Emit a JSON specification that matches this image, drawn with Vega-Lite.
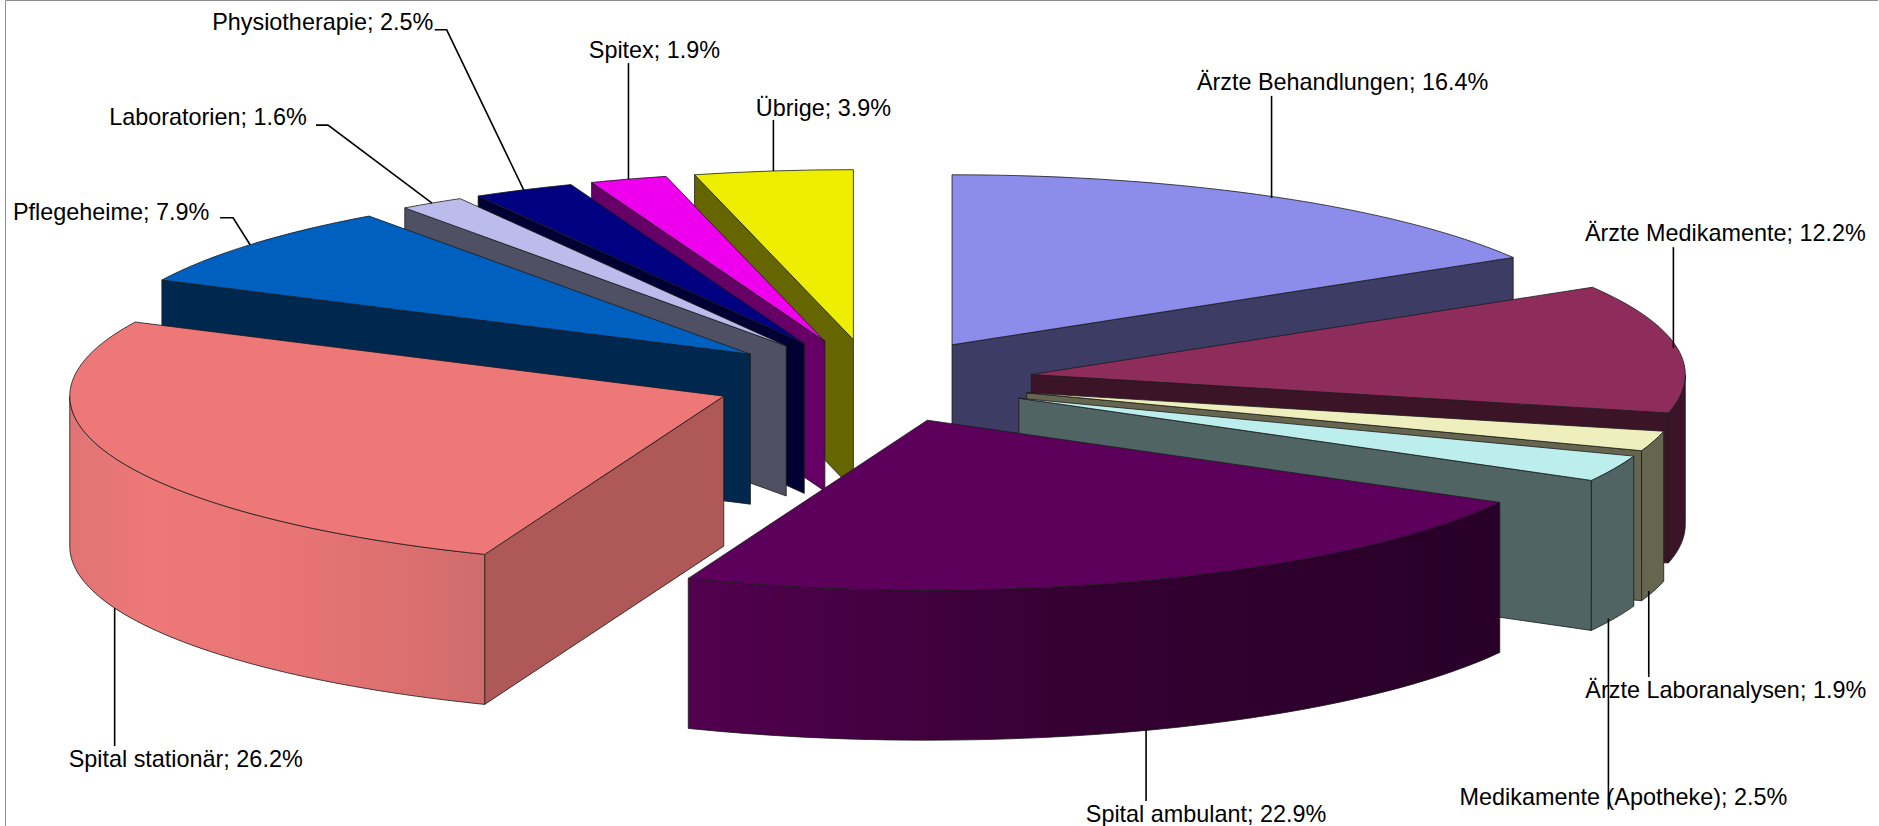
{
"$schema":"https://vega.github.io/schema/vega-lite/v6.json",
"autosize":{"type":"none"},
"padding":{"left":5,"top":0,"right":0,"bottom":0},
"width":1873,"height":826,
"background":"white",
"config":{"view":{"stroke":"#8c8c8c","strokeWidth":1}},
"params":[{"name":"rx","value":654},{"name":"ry","value":170},{"name":"depth","value":150},{"name":"explode","value":0.245}],
"data":{"values":[
{"name":"Ärzte Behandlungen","value":16.4},
{"name":"Ärzte Medikamente","value":12.2},
{"name":"Ärzte Laboranalysen","value":1.9},
{"name":"Medikamente (Apotheke)","value":2.5},
{"name":"Spital ambulant","value":22.9},
{"name":"Spital stationär","value":26.2},
{"name":"Pflegeheime","value":7.9},
{"name":"Laboratorien","value":1.6},
{"name":"Physiotherapie","value":2.5},
{"name":"Spitex","value":1.9},
{"name":"Übrige","value":3.9}
]},
"transform":[
{"window":[{"op":"sum","field":"value","as":"cum"}],"frame":[null,0]},
{"joinaggregate":[{"op":"sum","field":"value","as":"total"}]},
{"calculate":"(datum.cum-datum.value)/datum.total*2*PI","as":"a0"},
{"calculate":"datum.cum/datum.total*2*PI","as":"a1"},
{"calculate":"(datum.a0+datum.a1)/2","as":"mid"},
{"calculate":"sin(datum.mid)*explode","as":"apexX"},
{"calculate":"cos(datum.mid)*explode","as":"apexY"},
{"calculate":"sin(datum.mid)*(1+explode)","as":"rimX"},
{"calculate":"cos(datum.mid)*(1+explode)-(cos(datum.mid)<0?depth/ry:0)","as":"rimY"}
],
"layer":[
{
"transform":[
{"calculate":"round(rx*sin(datum.a0)*100)/100","as":"x0"},
{"calculate":"round(-ry*cos(datum.a0)*100)/100","as":"y0"},
{"calculate":"round(rx*sin(datum.a1)*100)/100","as":"x1"},
{"calculate":"round(-ry*cos(datum.a1)*100)/100","as":"y1"},
{"calculate":"max(datum.a0,PI/2)","as":"oFrom"},
{"calculate":"min(datum.a1,3*PI/2)","as":"oTo"},
{"calculate":"round(rx*sin(datum.oFrom)*100)/100","as":"ox0"},
{"calculate":"round(-ry*cos(datum.oFrom)*100)/100","as":"oy0"},
{"calculate":"round(rx*sin(datum.oTo)*100)/100","as":"ox1"},
{"calculate":"round(-ry*cos(datum.oTo)*100)/100","as":"oy1"},
{"calculate":"'M0,0L'+datum.x0+','+datum.y0+'A'+rx+','+ry+' 0 0 1 '+datum.x1+','+datum.y1+'Z'","as":"pTop"},
{"calculate":"'M0,0L'+datum.x0+','+datum.y0+'l0,'+depth+'L0,'+depth+'Z'","as":"pStart"},
{"calculate":"'M0,0L'+datum.x1+','+datum.y1+'l0,'+depth+'L0,'+depth+'Z'","as":"pEnd"},
{"calculate":"'M'+datum.ox0+','+datum.oy0+'A'+rx+','+ry+' 0 0 1 '+datum.ox1+','+datum.oy1+'l0,'+depth+'A'+rx+','+ry+' 0 0 0 '+datum.ox0+','+(datum.oy0+depth)+'Z'","as":"pOuter"},
{"fold":["pStart","pEnd","pOuter","pTop"],"as":["face","path"]},
{"filter":"datum.face=='pTop'||(datum.face=='pEnd'&&datum.a1<PI)||(datum.face=='pStart'&&datum.a0>PI)||(datum.face=='pOuter'&&datum.oTo>datum.oFrom)"},
{"calculate":"-cos(datum.mid)+indexof(['pStart','pEnd','pOuter','pTop'],datum.face)*0.0001","as":"paint"},
{"calculate":"datum.name+(datum.face=='pTop'?'|top':'|wall')","as":"colorKey"}
],
"mark":{"type":"point","filled":true,"size":4,"opacity":1,"stroke":"#1a1a1a","strokeWidth":0.8},
"encoding":{
"x":{"field":"apexX","type":"quantitative","axis":null,"scale":{"domain":[-1,1],"range":[214,1522],"nice":false,"zero":false}},
"y":{"field":"apexY","type":"quantitative","axis":null,"scale":{"domain":[-1,1],"range":[551,211],"nice":false,"zero":false}},
"shape":{"field":"path","type":"nominal","scale":null,"legend":null},
"order":{"field":"paint","type":"quantitative"},
"fill":{
"condition":[
{"test":"datum.face=='pOuter'&&datum.name=='Spital ambulant'","value":{"gradient":"linear","x1":0,"y1":0,"x2":1,"y2":0,"stops":[{"offset":0,"color":"#52004f"},{"offset":0.5,"color":"#340032"},{"offset":1,"color":"#280028"}]}},
{"test":"datum.face=='pOuter'&&datum.name=='Spital stationär'","value":{"gradient":"linear","x1":0,"y1":0,"x2":1,"y2":0,"stops":[{"offset":0,"color":"#e07474"},{"offset":0.2,"color":"#ee7878"},{"offset":0.55,"color":"#e87474"},{"offset":1,"color":"#d06c6c"}]}}
],
"field":"colorKey","type":"nominal","legend":null,
"scale":{
"domain":["Ärzte Behandlungen|top","Ärzte Behandlungen|wall","Ärzte Medikamente|top","Ärzte Medikamente|wall","Ärzte Laboranalysen|top","Ärzte Laboranalysen|wall","Medikamente (Apotheke)|top","Medikamente (Apotheke)|wall","Spital ambulant|top","Spital ambulant|wall","Spital stationär|top","Spital stationär|wall","Pflegeheime|top","Pflegeheime|wall","Laboratorien|top","Laboratorien|wall","Physiotherapie|top","Physiotherapie|wall","Spitex|top","Spitex|wall","Übrige|top","Übrige|wall"],
"range":["#8c8ceb","#3c3c64","#8e2d5c","#3c1428","#efefbd","#666650","#bdeeee","#506464","#5c005c","#3c003c","#ee7878","#ae5858","#0060c0","#00284f","#bcbcec","#505064","#000080","#000033","#ee00ee","#660066","#eeee00","#666600"]
}
}
}
},
{
"transform":[
{"calculate":"{'Ärzte Behandlungen':'M-3,1L-3,-101','Ärzte Medikamente':'M-4,0L-4,-101','Ärzte Laboranalysen':'M-5,0L-5,86','Medikamente (Apotheke)':'M-6,0L-6,191','Spital ambulant':'M-3,0L-3,71','Spital stationär':'M0,0L0,138','Pflegeheime':'M0,0L-17,-27L-30,-27','Laboratorien':'M0,0L-104,-78L-116,-78','Physiotherapie':'M0,0L-77,-160L-89,-160','Spitex':'M0,0L0,-116','Übrige':'M0,0L0,-51'}[datum.name]","as":"leader"}
],
"mark":{"type":"point","filled":false,"size":4,"opacity":1,"stroke":"#000000","strokeWidth":1.6},
"encoding":{
"x":{"field":"rimX","type":"quantitative","axis":null},
"y":{"field":"rimY","type":"quantitative","axis":null},
"shape":{"field":"leader","type":"nominal","scale":null,"legend":null}
}
},
{
"transform":[
{"calculate":"{'Ärzte Behandlungen':68,'Ärzte Medikamente':48,'Ärzte Laboranalysen':72,'Medikamente (Apotheke)':9,'Spital ambulant':57,'Spital stationär':71,'Pflegeheime':-139,'Laboratorien':-224,'Physiotherapie':-201,'Spitex':26,'Übrige':50}[datum.name]","as":"ldx"},
{"calculate":"{'Ärzte Behandlungen':-114,'Ärzte Medikamente':-114,'Ärzte Laboranalysen':100,'Medikamente (Apotheke)':180,'Spital ambulant':85,'Spital stationär':152,'Pflegeheime':-32,'Laboratorien':-85,'Physiotherapie':-167,'Spitex':-128,'Übrige':-62}[datum.name]","as":"ldy"},
{"calculate":"datum.rimX+datum.ldx/rx","as":"tx"},
{"calculate":"datum.rimY-datum.ldy/ry","as":"ty"},
{"calculate":"datum.name+'; '+format(datum.value,'.1f')+'%'","as":"label"}
],
"mark":{"type":"text","font":"Liberation Sans","fontSize":23.4,"align":"center","baseline":"middle","color":"#000000"},
"encoding":{
"x":{"field":"tx","type":"quantitative","axis":null},
"y":{"field":"ty","type":"quantitative","axis":null},
"text":{"field":"label","type":"nominal"}
}
}
]
}
